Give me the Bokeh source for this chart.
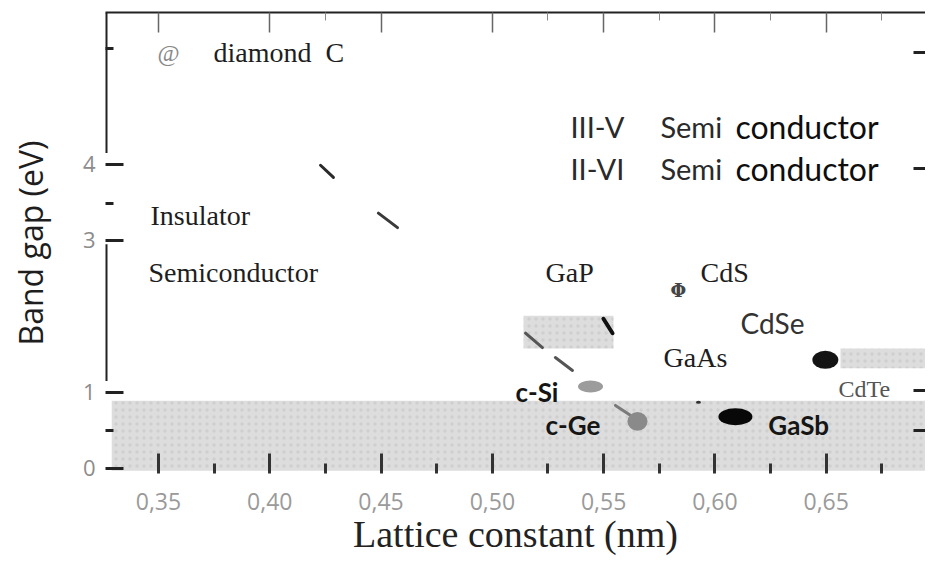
from bokeh.plotting import figure
from bokeh.models import LinearAxis, FixedTicker, CustomJSTickFormatter
from bokeh.core.properties import value
from bokeh.embed import file_html
from bokeh.resources import INLINE

# ---------------- data ----------------
x_ticks = [0.35, 0.40, 0.45, 0.50, 0.55, 0.60, 0.65]
x_minor_bottom = [0.375, 0.425, 0.475, 0.525, 0.575, 0.625, 0.675]
x_minor_top = [0.425, 0.525, 0.575, 0.625, 0.675]
y_ticks = [0, 1, 3, 4]
y_minor_left = [0.5, 3.49, 5.53]
y_ticks_right = [5.47, 3.95, 1.03, 0.5]

# shaded bands (lattice constant range, band gap range)
band_left = [0.329, 0.514, 0.6564]
band_right = [0.70, 0.5544, 0.70]
band_bottom = [-0.03, 1.58, 1.32]
band_top = [0.89, 2.01, 1.58]

# material points (lattice constant nm, band gap eV)
pt_x = [0.5441, 0.5652, 0.6092, 0.6496, 0.5926]
pt_y = [1.08, 0.62, 0.68, 1.43, 0.87]

# short dash strokes
seg_x0 = [0.4228, 0.4488, 0.5149, 0.5283, 0.5499, 0.5553]
seg_y0 = [3.99, 3.36, 1.78, 1.46, 1.97, 0.83]
seg_x1 = [0.4286, 0.4574, 0.5225, 0.5360, 0.5540, 0.5620]
seg_y1 = [3.83, 3.17, 1.59, 1.29, 1.78, 0.70]

serif_text = ["diamond\u00a0\u00a0C", "Insulator", "Semiconductor", "GaP", "CdS", "GaAs"]
serif_x = [0.3747, 0.3464, 0.3455, 0.5239, 0.5935, 0.5769]
serif_y = [5.47, 3.33, 2.58, 2.58, 2.58, 1.46]

class_text = ["III-V", "II-VI"]
class_x = [0.5351, 0.5351]
class_y = [4.50, 3.95]
semi_x = [0.5755, 0.5755]
cond_x = [0.6092, 0.6092]

bold_text = ["c-Si", "c-Ge", "GaSb"]
bold_x = [0.5104, 0.5239, 0.6240]
bold_y = [1.00, 0.57, 0.57]

X_START, X_END = 0.3262, 0.6946
Y_START, Y_END = -0.066, 6.0
axis_line_spans = [(4.15, 6.0), (1.15, 2.95)]

# ---------------- styles ----------------
pt_w = [25, 20, 34, 26, 5]
pt_h = [12, 19, 17, 18, 3]
pt_color = ["#9c9c9c", "#8a8a8a", "#080808", "#141414", "#333333"]
seg_color = ["#2a2a2a", "#3a3a3a", "#555555", "#555555", "#111111", "#7a7a7a"]
seg_width = [3, 3, 3, 3, 4, 3]

p = figure(width=925, height=564, x_range=(X_START, X_END), y_range=(Y_START, Y_END),
           output_backend="svg", toolbar_location=None,
           min_border_left=105, min_border_top=12, min_border_right=0, min_border_bottom=91)
p.outline_line_color = None
p.xgrid.visible = False
p.ygrid.visible = False
p.background_fill_color = "white"

# bands
p.quad(left=band_left, right=band_right, bottom=band_bottom, top=band_top,
       fill_color="#dddddd", line_color=None,
       hatch_pattern="dot", hatch_color="#c6c6c6", hatch_scale=7, hatch_weight=3, hatch_alpha=0.6)

# left axis line pieces
for (lo, hi) in axis_line_spans:
    p.segment(x0=[X_START], y0=[lo], x1=[X_START], y1=[hi], line_color="#222222", line_width=4)

# strokes
p.segment(x0=seg_x0, y0=seg_y0, x1=seg_x1, y1=seg_y1, line_color=seg_color,
          line_width=seg_width, line_cap="round")

# points
p.ellipse(x=pt_x, y=pt_y, width=pt_w, height=pt_h, width_units="screen", height_units="screen",
          fill_color=pt_color, line_color=None)

# CdS symbol and diamond symbol
p.text(x=[0.5836], y=[2.34], text=["Φ"], text_font=value("DejaVu Serif"), text_font_size="18px",
       text_font_style="bold", text_align="center", text_baseline="middle", text_color="#444444")
p.text(x=[0.3545], y=[5.47], text=["@"], text_font=value("Liberation Serif"), text_font_size="24px",
       text_align="center", text_baseline="middle", text_color="#888888")

# serif labels
p.text(x=serif_x, y=serif_y, text=serif_text, text_font=value("Liberation Serif"), text_font_size="28px",
       text_align="left", text_baseline="middle", text_color="#1e1e1e")
p.text(x=[0.6555], y=[1.05], text=["CdTe"], text_font=value("Liberation Serif"), text_font_size="24px",
       text_align="left", text_baseline="middle", text_color="#555555")

# class labels
p.text(x=class_x, y=class_y, text=class_text, text_font=value("Lato"), text_font_size="29px",
       text_align="left", text_baseline="middle", text_color="#2a2a2a")
p.text(x=semi_x, y=class_y, text=["Semi", "Semi"], text_font=value("Lato"), text_font_size="29px",
       text_align="left", text_baseline="middle", text_color="#2a2a2a")
p.text(x=cond_x, y=class_y, text=["conductor", "conductor"], text_font=value("Lato"), text_font_size="32px",
       text_align="left", text_baseline="middle", text_color="#0e0e0e")
p.text(x=[0.6115], y=[1.91], text=["CdSe"], text_font=value("Lato"), text_font_size="28px",
       text_align="left", text_baseline="middle", text_color="#333333")

# bold material labels
p.text(x=bold_x, y=bold_y, text=bold_text, text_font=value("Lato"), text_font_size="26px",
       text_font_style="bold", text_align="left", text_baseline="middle", text_color="#151515")

# ---------------- axes ----------------
comma_fmt = CustomJSTickFormatter(code="return tick.toFixed(2).replace('.', ',');")

xa = p.xaxis[0]
xa.ticker = FixedTicker(ticks=x_ticks, minor_ticks=x_minor_bottom)
xa.formatter = comma_fmt
xa.axis_line_color = None
xa.major_tick_in = 20
xa.major_tick_out = 0
xa.minor_tick_in = 10
xa.minor_tick_out = 0
xa.major_tick_line_width = 3
xa.minor_tick_line_width = 3
xa.major_tick_line_color = "#333333"
xa.minor_tick_line_color = "#333333"
xa.major_label_standoff = 19
xa.major_label_text_font = "Open Sans"
xa.major_label_text_font_size = "23px"
xa.major_label_text_color = "#9a9a9a"
xa.axis_label = "Lattice constant (nm)"
xa.axis_label_text_font = "Liberation Serif"
xa.axis_label_text_font_size = "38px"
xa.axis_label_text_font_style = "normal"
xa.axis_label_text_color = "#222222"
xa.axis_label_standoff = 0

ya = p.yaxis[0]
ya.ticker = FixedTicker(ticks=y_ticks, minor_ticks=y_minor_left)
ya.axis_line_color = None
ya.major_tick_in = 18
ya.major_tick_out = 0
ya.minor_tick_in = 8
ya.minor_tick_out = 0
ya.major_tick_line_width = 3
ya.minor_tick_line_width = 3
ya.major_tick_line_color = "#222222"
ya.minor_tick_line_color = "#222222"
ya.major_label_standoff = 10
ya.major_label_text_font = "Open Sans"
ya.major_label_text_font_size = "22px"
ya.major_label_text_color = "#8c8c8c"
ya.axis_label = "Band gap (eV)"
ya.axis_label_text_font = "Open Sans"
ya.axis_label_text_font_size = "32px"
ya.axis_label_text_font_style = "normal"
ya.axis_label_text_color = "#1e1e1e"
ya.axis_label_standoff = 28

empty_fmt = CustomJSTickFormatter(code="return '';")

top = LinearAxis(ticker=FixedTicker(ticks=x_ticks, minor_ticks=x_minor_top), formatter=empty_fmt)
top.axis_line_color = "#222222"
top.axis_line_width = 2
top.major_tick_in = 20
top.major_tick_out = 0
top.minor_tick_in = 8
top.minor_tick_out = 0
top.major_tick_line_color = "#666666"
top.minor_tick_line_color = "#888888"
top.major_tick_line_width = 1.5
top.major_label_text_font_size = "1px"
top.major_label_standoff = 0
p.add_layout(top, "above")

right = LinearAxis(ticker=FixedTicker(ticks=y_ticks_right, minor_ticks=[]), formatter=empty_fmt)
right.axis_line_color = None
right.major_tick_in = 12
right.major_tick_out = 0
right.major_tick_line_width = 3
right.major_tick_line_color = "#222222"
right.major_label_text_font_size = "1px"
right.major_label_standoff = 0
p.add_layout(right, "right")

open("out.html", "w").write(file_html(p, INLINE))
